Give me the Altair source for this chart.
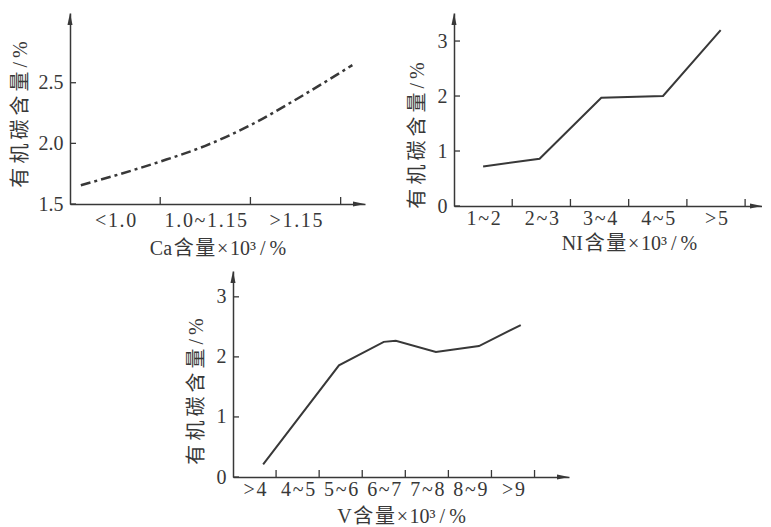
import json
import altair as alt
import pandas as pd

FONT = "'Liberation Serif', 'Times New Roman', 'Noto Sans CJK SC', serif"
INK = "#383838"
TS = "\u2009"  # thin space (letter-spaced titles)
HS = "\u200a"  # hair space (letter-spaced tick labels)

# ---- data ----
ca_labels = ["<1.0", "1.0~1.15", ">1.15"]
ca_x = [0.12, 0.5, 1.0, 1.5, 2.0, 2.5, 3.13]
ca_y = [1.655, 1.735, 1.85, 1.98, 2.15, 2.36, 2.645]
ca_yticks = [1.5, 2.0, 2.5]

ni_labels = ["1~2", "2~3", "3~4", "4~5", ">5"]
ni_x = [0.5, 1.47, 2.53, 3.59, 4.58]
ni_y = [0.72, 0.86, 1.97, 2.0, 3.2]
ni_yticks = [0, 1, 2, 3]

v_labels = [">4", "4~5", "5~6", "6~7", "7~8", "8~9", ">9"]
v_x = [0.70, 2.46, 3.50, 3.78, 4.71, 5.71, 6.68]
v_y = [0.21, 1.86, 2.25, 2.27, 2.08, 2.18, 2.53]
v_yticks = [0, 1, 2, 3]

ytitle = TS.join(list("有机碳含量")) + TS + "/" + TS + "%"


def xtitle(elem):
    return elem + HS + "含" + HS + "量" + HS + "×" + HS + "10³" + TS + "/" + TS + "%"


def spaced(s):
    return HS.join(list(s))


def panel(labels, xs, ys, yticks, xmax, ymin, ymax, W, H, xt_text, title_y,
          yfmt, lpad, tpad, ytpad=10, title_x=None, dash=None, interp="linear"):
    n = len(labels)
    xaxis_kw = dict(
        values=[i + 0.5 for i in range(n)],
        labelExpr=json.dumps([spaced(s) for s in labels]) + "[floor(datum.value)]",
        labelFlush=False, labelOverlap=False, labelPadding=lpad,
        title=xt_text, titlePadding=tpad,
    )
    if title_x is not None:
        xaxis_kw["titleX"] = title_x
    x_enc = alt.X(
        "x:Q",
        scale=alt.Scale(domain=[0, xmax], nice=False, zero=False),
        axis=alt.Axis(**xaxis_kw),
    )
    y_enc = alt.Y(
        "y:Q",
        scale=alt.Scale(domain=[ymin, ymax], nice=False, zero=False),
        axis=alt.Axis(values=yticks, format=yfmt, labelPadding=7,
                      title=ytitle, titlePadding=ytpad, titleY=title_y),
    )
    line_kw = dict(color=INK, strokeWidth=2, interpolate=interp)
    if dash:
        line_kw["strokeDash"] = dash
        line_kw["strokeWidth"] = 2.5
    line = alt.Chart(pd.DataFrame({"x": xs, "y": ys})).mark_line(**line_kw).encode(
        x=x_enc, y=y_enc)
    xt = alt.Chart(pd.DataFrame({"x": list(range(1, n + 1)), "y": [ymin] * n})).mark_rule(
        color=INK, strokeWidth=1.3).encode(
        x=x_enc, y=alt.value(H), y2=alt.value(H - 7))
    yt = alt.Chart(pd.DataFrame({"x": [0] * len(yticks), "y": yticks})).mark_rule(
        color=INK, strokeWidth=1.3).encode(
        y=y_enc, x=alt.value(0), x2=alt.value(6))
    up = alt.Chart(pd.DataFrame({"a": [0]})).mark_point(
        shape="M0,-1L-0.42,1L0.42,1Z", filled=True, opacity=1, color=INK, size=144,
        strokeWidth=0).encode(x=alt.value(0), y=alt.value(6))
    right = alt.Chart(pd.DataFrame({"a": [0]})).mark_point(
        shape="M1,0L-1,-0.42L-1,0.42Z", filled=True, opacity=1, color=INK, size=144,
        strokeWidth=0).encode(x=alt.value(W - 6), y=alt.value(H))
    return alt.layer(line, xt, yt, up, right).properties(width=W, height=H)


p1 = panel(ca_labels, ca_x, ca_y, ca_yticks, 3.27, 1.5, 3.075, 295, 191,
           xtitle("Ca"), 101, ".1f", 6, 8, ytpad=8, dash=[10, 4, 3, 4],
           interp="monotone")
p2 = panel(ni_labels, ni_x, ni_y, ni_yticks, 5.29, 0, 3.51, 308, 193,
           xtitle("NI"), 122, "d", 2, 5, title_x=175)
p3 = panel(v_labels, v_x, v_y, v_yticks, 7.8, 0, 3.43, 336, 206,
           xtitle("V"), 120, "d", 2, 7)

spacer = alt.Chart(pd.DataFrame({"a": [0]})).mark_point(opacity=0).encode(
    x=alt.value(0), y=alt.value(0)).properties(width=116, height=10)

chart = alt.vconcat(
    alt.hconcat(p1, p2, spacing=42),
    alt.hconcat(spacer, p3, spacing=0),
    spacing=10,
).properties(
    padding={"left": 2, "top": 5, "right": 0, "bottom": 0}
).configure_view(stroke=None).configure_axis(
    domainColor=INK, domainWidth=1.5, grid=False, ticks=False,
    labelFont=FONT, labelFontSize=20, labelColor=INK,
    titleFont=FONT, titleFontSize=20, titleFontWeight="normal", titleColor=INK,
)

chart.save("out.html", embed_options={"renderer": "svg", "actions": False})
